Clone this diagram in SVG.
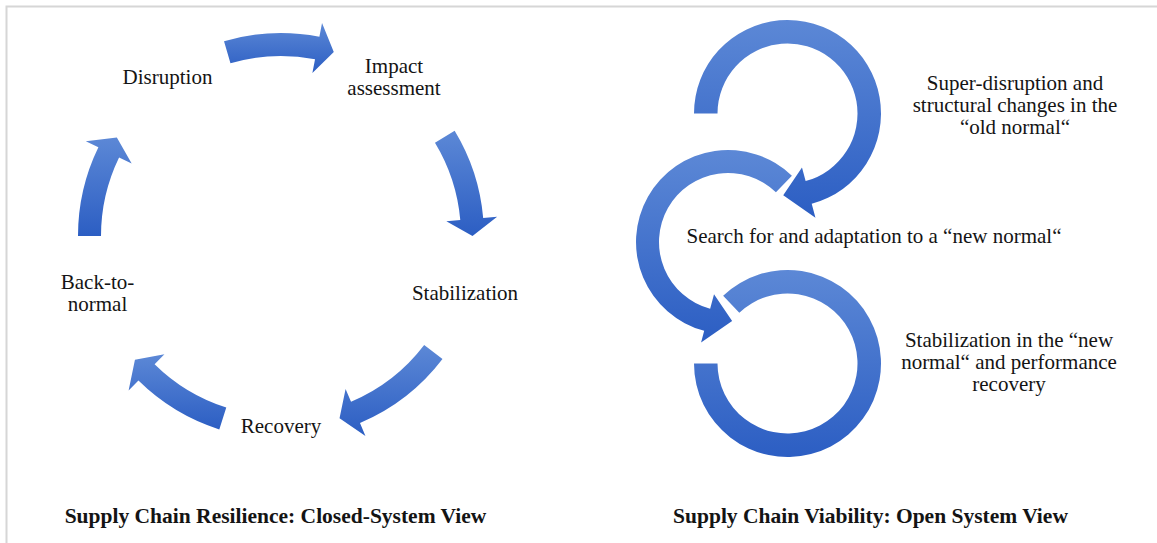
<svg xmlns="http://www.w3.org/2000/svg" width="1157" height="543" viewBox="0 0 1157 543">
  <style>
    .lbl { font-family: "Liberation Serif", "Times New Roman", serif; font-size: 21px; fill: #141414; text-anchor: middle; }
    .ttl { font-family: "Liberation Serif", "Times New Roman", serif; font-size: 21.5px; font-weight: bold; fill: #141414; text-anchor: middle; }
    .arw { fill: url(#blue); }
    .ring { fill: url(#blue); stroke: #ffffff; stroke-width: 3; stroke-linejoin: miter; paint-order: stroke; }
  </style>
  <defs>
    <linearGradient id="blue" x1="0" y1="0" x2="0" y2="1">
      <stop offset="0" stop-color="#5c88d6"/>
      <stop offset="1" stop-color="#2c5ec3"/>
    </linearGradient>
  </defs>

  <rect x="0" y="0" width="1157" height="543" fill="#ffffff"/>
  <!-- frame edges -->
  <path d="M6.5,543 V6.5 H1157" fill="none" stroke="#d6d6d6" stroke-width="2"/>

  <!-- closed cycle: curved arrows between the stages -->
  <g id="connectors">
    <path id="arrow-disruption-impact" class="arw" d="M224.02,41.16 A203,203 0 0 1 319.39,36.65 L322.03,22.91 L333.78,51.91 L312.39,72.99 L315.04,59.24 A180,180 0 0 0 230.47,63.24 Z"/>
    <path id="arrow-impact-stabilization" class="arw" d="M454.65,130.85 A203,203 0 0 1 483.19,217.95 L497.13,216.71 L472.5,236 L446.34,221.24 L460.28,220 A180,180 0 0 0 434.97,142.76 Z"/>
    <path id="arrow-stabilization-recovery" class="arw" d="M442.49,359.02 A203,203 0 0 1 359.99,423 L365.43,435.9 L339.54,418.33 L345.59,388.92 L351.04,401.82 A180,180 0 0 0 424.19,345.08 Z"/>
    <path id="arrow-recovery-back" class="arw" d="M219.29,429.4 A203,203 0 0 1 138.45,380.54 L128.62,390.5 L134.94,359.86 L164.43,354.19 L154.6,364.16 A180,180 0 0 0 226.28,407.49 Z"/>
    <path id="arrow-back-disruption" class="arw" d="M78,236 A203,203 0 0 1 98.38,147.33 L85.79,141.21 L116.85,137.38 L131.67,163.49 L119.07,157.38 A180,180 0 0 0 101,236 Z"/>
  </g>

  <g id="node-disruption">
    <text class="lbl" x="167.5" y="84">Disruption</text>
  </g>
  <g id="node-impact">
    <text class="lbl" x="394" y="73">Impact</text>
    <text class="lbl" x="394" y="95">assessment</text>
  </g>
  <g id="node-stabilization">
    <text class="lbl" x="465" y="300">Stabilization</text>
  </g>
  <g id="node-recovery">
    <text class="lbl" x="281" y="433">Recovery</text>
  </g>
  <g id="node-back-to-normal">
    <text class="lbl" x="97.5" y="289">Back-to-</text>
    <text class="lbl" x="97.5" y="311">normal</text>
  </g>
  <g id="title-resilience">
    <text class="ttl" x="275.5" y="523">Supply Chain Resilience: Closed-System View</text>
  </g>

  <!-- open system: three chained circular arrows -->
  <g id="ring-new-normal">
    <path class="ring" d="M694,363.5 A93.5,93.5 0 1 0 723.13,295.68 L739.31,312.72 A70,70 0 1 1 717.5,363.5 Z"/>
  </g>
  <g id="ring-search">
    <path class="ring" d="M791.91,175.82 A92,92 0 1 0 704.19,330.87 L701.08,342.45 L732.13,320.89 L714.02,294.16 L710.14,308.65 A69,69 0 1 1 775.93,192.37 Z"/>
  </g>
  <g id="ring-super-disruption">
    <path class="ring" d="M694,113.5 A93.5,93.5 0 1 1 811.7,203.81 L815.45,217.82 L783.22,195.14 L801.99,167.59 L805.62,181.11 A70,70 0 1 0 717.5,113.5 Z"/>
  </g>

  <g id="node-super-disruption">
    <text class="lbl" x="1015" y="90">Super-disruption and</text>
    <text class="lbl" x="1015" y="112">structural changes in the</text>
    <text class="lbl" x="1015" y="134">“old normal“</text>
  </g>
  <g id="node-search">
    <text class="lbl" x="874" y="243">Search for and adaptation to a “new normal“</text>
  </g>
  <g id="node-stabilization-new">
    <text class="lbl" x="1009" y="347">Stabilization in the “new</text>
    <text class="lbl" x="1009" y="369">normal“ and performance</text>
    <text class="lbl" x="1009" y="391">recovery</text>
  </g>
  <g id="title-viability">
    <text class="ttl" x="870.5" y="523">Supply Chain Viability: Open System View</text>
  </g>
</svg>
